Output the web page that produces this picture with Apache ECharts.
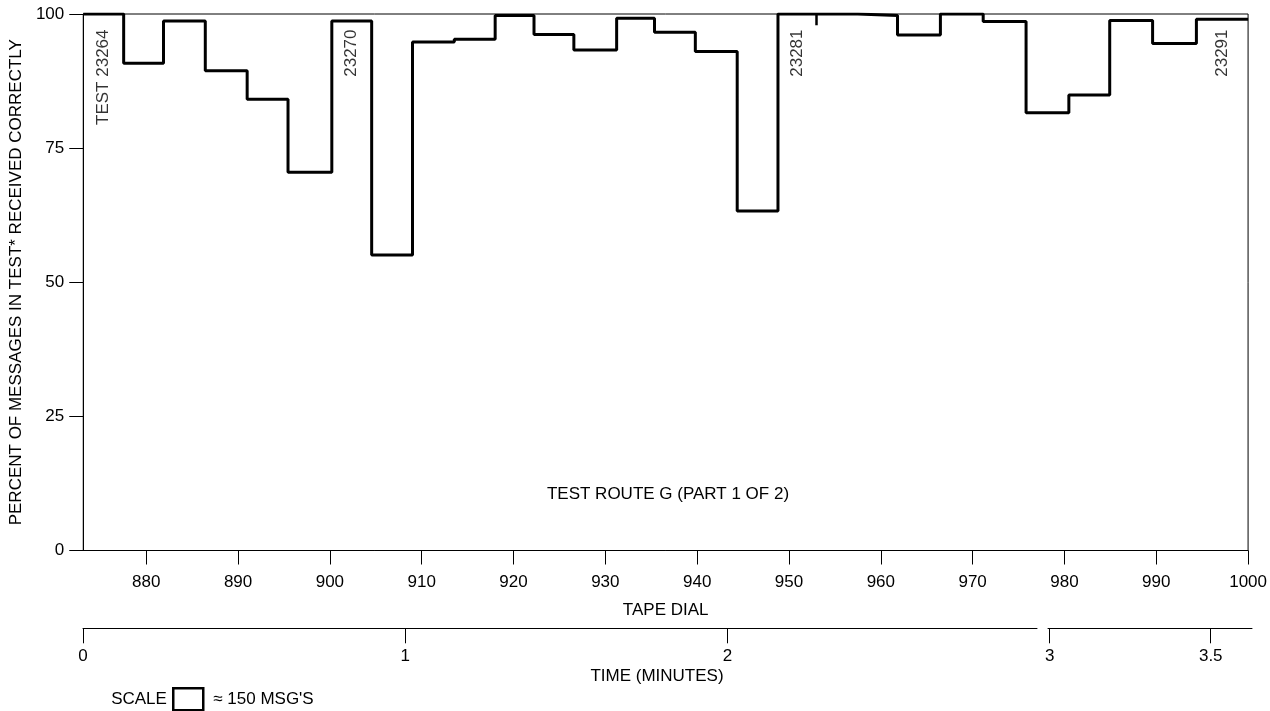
<!DOCTYPE html>
<html>
<head>
<meta charset="utf-8">
<script src="https://cdn.jsdelivr.net/npm/echarts@6/dist/echarts.min.js"></script>
<style>
  html, body { margin: 0; padding: 0; background: #fff; }
  #chart { width: 1270px; height: 711px; }
</style>
</head>
<body>
<div id="chart"></div>
<script>
// ---- data ----
// step boundaries on the tape dial (each step ~150 messages)
const segEdges = [873.14, 877.54, 881.88, 886.43, 890.99, 895.44, 900.21, 904.55, 909.0, 913.55,
                  918.0, 922.23, 926.57, 931.23, 935.35, 939.8, 944.36, 948.8, 952.93, 957.48,
                  961.82, 966.49, 971.15, 975.82, 980.48, 984.93, 989.6, 994.37, 1000];
// percent of messages received correctly in each step
const pctCorrect = [100, 90.8, 98.7, 89.4, 84.1, 70.5, 98.7, 55.1, 94.8, 95.3,
                    99.7, 96.2, 93.3, 99.2, 96.6, 93.0, 63.3, 100, 100, 99.7,
                    96.1, 100, 98.6, 81.6, 84.9, 98.8, 94.5, 99.0];
// test numbers and the step in which each test starts
const testNames = ['TEST 23264', '23270', '23281', '23291'];
const testSteps = [0, 6, 17, 27];
// axis ticks
const tapeTicks = [880, 890, 900, 910, 920, 930, 940, 950, 960, 970, 980, 990, 1000];
const yTicks = [0, 25, 50, 75, 100];
const timeTicksA = [0, 1, 2];
const timeTicksB = [3, 3.5];
const timeRangeA = [0, 2.961];
const timeRangeB = [2.995, 3.628];

// ---- build ----
const FONT = 'Liberation Sans';
const stepData = pctCorrect.map((v, i) => [segEdges[i], v]);
stepData.push([segEdges[segEdges.length - 1], pctCorrect[pctCorrect.length - 1]]);

const dividers = [];
for (let i = 1; i < pctCorrect.length; i++) {
  if (pctCorrect[i] === pctCorrect[i - 1]) {
    dividers.push([{ coord: [segEdges[i], pctCorrect[i]] }, { coord: [segEdges[i], pctCorrect[i] - 2.1] }]);
  }
}

const testLabels = testNames.map((n, k) => {
  const s = testSteps[k];
  return { name: n, value: [(segEdges[s] + segEdges[s + 1]) / 2, 100] };
});

const txt = { fontFamily: FONT, fontSize: 17, color: '#000', fontWeight: 'normal' };
const plain = v => String(v);

const chart = echarts.init(document.getElementById('chart'), null, { renderer: 'canvas' });
chart.setOption({
  backgroundColor: '#fff',
  animation: false,
  textStyle: { fontFamily: FONT },
  title: [
    { text: 'TEST ROUTE G (PART 1 OF 2)', left: 668, top: 486, textAlign: 'center', textStyle: txt, padding: 0 },
    { text: 'TIME (MINUTES)', left: 657, top: 668, textAlign: 'center', textStyle: txt, padding: 0 },
    { text: 'SCALE', left: 139, top: 691, textAlign: 'center', textStyle: txt, padding: 0 }
  ],
  legend: {
    left: 172, top: 687, padding: 0,
    itemWidth: 30, itemHeight: 22,
    data: [{ name: "≈ 150 MSG'S", icon: 'rect',
             itemStyle: { color: '#fff', borderColor: '#000', borderWidth: 2.5 } }],
    textStyle: Object.assign({}, txt, { padding: [0, 0, 0, 5] }),
    selectedMode: false
  },
  grid: [
    { left: 82.5, top: 14, width: 1169.5, height: 536.5, show: true, borderColor: '#000', borderWidth: 1, backgroundColor: 'transparent' },
    { left: 83, top: 600, width: 954, height: 28.3 },
    { left: 1048, top: 600, width: 204, height: 28.3 }
  ],
  xAxis: [
    {
      gridIndex: 0, type: 'value', min: segEdges[0], max: 1000,
      name: 'TAPE DIAL', nameLocation: 'middle', nameGap: 51, nameTextStyle: txt,
      splitLine: { show: false },
      axisLine: { lineStyle: { color: '#000', width: 1 } },
      axisTick: { length: 14, lineStyle: { color: '#000', width: 1 }, customValues: tapeTicks },
      axisLabel: Object.assign({ margin: 23, customValues: tapeTicks, formatter: plain }, txt)
    },
    {
      gridIndex: 1, type: 'value', min: timeRangeA[0], max: timeRangeA[1],
      splitLine: { show: false },
      axisLine: { lineStyle: { color: '#000', width: 1 } },
      axisTick: { length: 15, lineStyle: { color: '#000', width: 1 }, customValues: timeTicksA },
      axisLabel: Object.assign({ margin: 20, customValues: timeTicksA, formatter: plain }, txt)
    },
    {
      gridIndex: 2, type: 'value', min: timeRangeB[0], max: timeRangeB[1],
      splitLine: { show: false },
      axisLine: { lineStyle: { color: '#000', width: 1 } },
      axisTick: { length: 15, lineStyle: { color: '#000', width: 1 }, customValues: timeTicksB },
      axisLabel: Object.assign({ margin: 20, customValues: timeTicksB, formatter: plain }, txt)
    }
  ],
  yAxis: [
    {
      gridIndex: 0, type: 'value', min: 0, max: 100, interval: 25,
      name: 'PERCENT OF MESSAGES IN TEST* RECEIVED CORRECTLY',
      nameLocation: 'middle', nameGap: 56, nameTextStyle: txt,
      splitLine: { show: false },
      axisLine: { show: true, lineStyle: { color: '#000', width: 1 } },
      axisTick: { show: true, length: 14, lineStyle: { color: '#000', width: 1 }, customValues: yTicks },
      axisLabel: Object.assign({ margin: 19, customValues: yTicks, formatter: plain }, txt)
    },
    { gridIndex: 1, type: 'value', min: 0, max: 1, show: false },
    { gridIndex: 2, type: 'value', min: 0, max: 1, show: false }
  ],
  series: [
    {
      type: 'line', name: 'percent', xAxisIndex: 0, yAxisIndex: 0,
      step: 'end', symbol: 'none', data: stepData,
      lineStyle: { color: '#000', width: 3 },
      markLine: {
        silent: true, symbol: 'none', label: { show: false },
        lineStyle: { color: '#000', width: 2.5, type: 'solid' },
        data: dividers
      },
      z: 5
    },
    {
      type: 'scatter', name: 'tests', xAxisIndex: 0, yAxisIndex: 0,
      symbolSize: 1, itemStyle: { color: 'rgba(0,0,0,0)' },
      data: testLabels,
      label: Object.assign({
        show: true, formatter: p => p.name, rotate: 90,
        position: 'bottom', distance: 15, align: 'right', verticalAlign: 'middle'
      }, txt),
      z: 6
    },
    { type: 'bar', name: "≈ 150 MSG'S", xAxisIndex: 0, yAxisIndex: 0, data: [] },
    { type: 'line', xAxisIndex: 1, yAxisIndex: 1, data: [] },
    { type: 'line', xAxisIndex: 2, yAxisIndex: 2, data: [] }
  ]
});
</script>
</body>
</html>
